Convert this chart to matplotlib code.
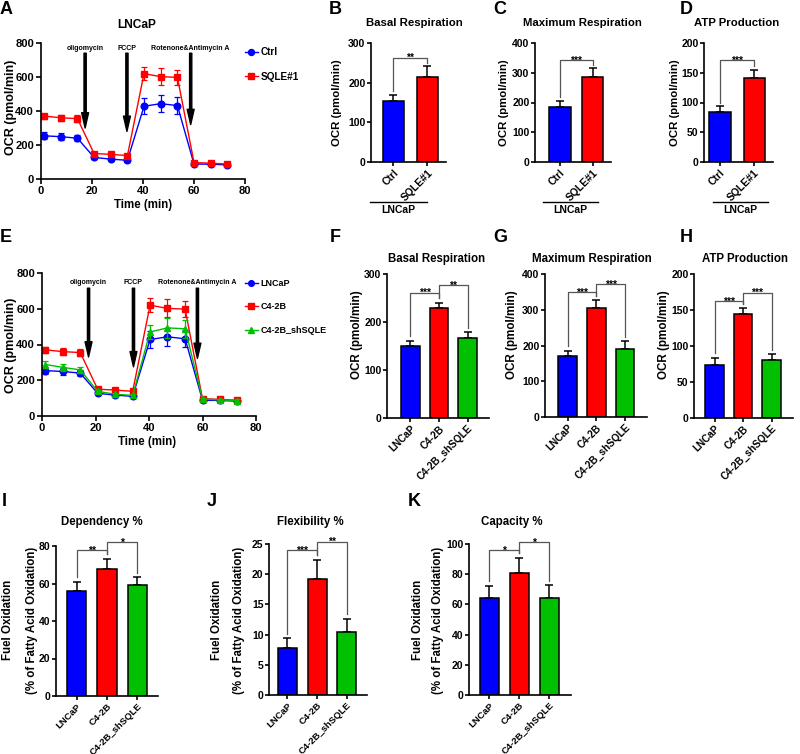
import numpy as np
import matplotlib.pyplot as plt

plt.rcParams['font.family'] = ['Liberation Sans', 'DejaVu Sans']
plt.rcParams['font.weight'] = 'bold'
plt.rcParams['axes.labelweight'] = 'bold'

# ---- data ----
t = [1.3, 7.8, 14.3, 20.8, 27.3, 33.9, 40.4, 46.9, 53.5, 60.0, 66.5, 73.0]

a_ctrl = [254, 249, 240, 127, 117, 110, 428, 443, 432, 88, 87, 83]
a_ctrl_err = [20, 20, 18, 10, 8, 8, 48, 50, 48, 8, 7, 7]
a_sqle = [370, 360, 355, 150, 145, 138, 620, 602, 598, 97, 93, 88]
a_sqle_err = [15, 18, 22, 10, 9, 9, 38, 50, 45, 8, 7, 7]

e_lncap = [254, 249, 240, 127, 117, 110, 428, 443, 432, 88, 87, 83]
e_lncap_err = [20, 20, 18, 10, 8, 8, 48, 50, 48, 8, 7, 7]
e_c42b = [370, 360, 355, 150, 145, 138, 620, 602, 598, 97, 93, 88]
e_c42b_err = [15, 18, 22, 10, 9, 9, 38, 50, 45, 8, 7, 7]
e_sh = [288, 272, 258, 138, 122, 115, 470, 493, 488, 95, 90, 86]
e_sh_err = [20, 18, 18, 10, 8, 8, 38, 55, 50, 8, 7, 7]

inj_names = ['oligomycin', 'FCCP', 'Rotenone&Antimycin A']
a_inj_t = [17.3, 33.7, 58.7]
a_inj_tip = [300, 280, 320]
e_inj_t = [17.4, 34.2, 58.1]
e_inj_tip = [330, 275, 322]

grp2 = ['Ctrl', 'SQLE#1']
grp3 = ['LNCaP', 'C4-2B', 'C4-2B_shSQLE']

b_vals, b_err = [154, 214], [15, 27]
c_vals, c_err = [185, 287], [20, 28]
d_vals, d_err = [84, 141], [10, 14]
f_vals, f_err = [150, 230, 167], [11, 10, 12]
g_vals, g_err = [171, 306, 189], [15, 20, 23]
h_vals, h_err = [74, 145, 81], [10, 8, 8]
i_vals, i_err = [56, 67.6, 59.4], [5, 5.7, 4]
j_vals, j_err = [7.85, 19.2, 10.4], [1.55, 3.2, 2.2]
k_vals, k_err = [64, 81, 64.5], [8.3, 10, 8.3]

# significance: (left, right, level, label)
b_sig = [(0, 1, 263, '**')]
c_sig = [(0, 1, 342, '***')]
d_sig = [(0, 1, 171, '***')]
f_sig = [(0, 1, 261, '***'), (1, 2, 277, '**')]
g_sig = [(0, 1, 349, '***'), (1, 2, 372, '***')]
h_sig = [(0, 1, 162, '***'), (1, 2, 174, '***')]
i_sig = [(0, 1, 77.8, '**'), (1, 2, 82, '*')]
j_sig = [(0, 1, 24.0, '***'), (1, 2, 25.4, '**')]
k_sig = [(0, 1, 96, '*'), (1, 2, 101.5, '*')]

BLUE, RED, GREEN = '#0000FF', '#FF0000', '#00C000'

W, H = 800, 754
fig = plt.figure(figsize=(8, 7.54), dpi=100)


def box(x0, y0, x1, y1):
    return [x0 / W, 1 - y1 / H, (x1 - x0) / W, (y1 - y0) / H]


def ftext(x, y, s, **kw):
    fig.text(x / W, 1 - y / H, s, **kw)


def style(ax, fs):
    for s in ['top', 'right']:
        ax.spines[s].set_visible(False)
    for s in ['left', 'bottom']:
        ax.spines[s].set_linewidth(1.2)
    ax.tick_params(width=1.2, length=3, pad=1)
    ax.tick_params(axis='y', labelsize=fs)


def trace(ax, series, inj_t, inj_tip, arrow_top, label_y):
    for vals, errs, col, mk, ms, lab in series:
        ax.errorbar(t, vals, yerr=errs, fmt='none', ecolor=col, elinewidth=0.9,
                    capsize=2.5, capthick=0.9)
        ax.plot(t, vals, color=col, marker=mk, ms=ms, lw=1, label=lab)
    for x, tip, name in zip(inj_t, inj_tip, inj_names):
        ax.annotate('', xy=(x, tip), xytext=(x, arrow_top),
                    arrowprops=dict(facecolor='black', edgecolor='black',
                                    width=1.6, headwidth=5, headlength=11))
        ax.text(x, label_y, name, ha='center', va='center', fontsize=5)
    ax.set_xlim(0, 80)
    ax.set_ylim(0, 800)
    ax.set_xticks([0, 20, 40, 60, 80])
    ax.set_yticks([0, 200, 400, 600, 800])
    style(ax, 8)
    ax.tick_params(axis='x', labelsize=8)
    ax.tick_params(length=3.5, pad=1.5)


def bars(ax, labels, vals, errs, colors, ymax, ystep, xlim, bw, sig, xfs):
    x = np.arange(len(vals))
    ax.errorbar(x, vals, yerr=[np.zeros(len(errs)), errs], fmt='none',
                ecolor='black', elinewidth=1.1, capsize=3, capthick=1.1, zorder=1)
    ax.bar(x, vals, width=bw, color=colors, edgecolor='black', lw=1.1, zorder=2)
    ax.set_xlim(*xlim)
    ax.set_ylim(0, ymax)
    ax.set_yticks(np.arange(0, ymax + ystep / 2, ystep))
    ax.set_xticks(x)
    ax.set_xticklabels(labels, rotation=45, ha='right', rotation_mode='anchor',
                       fontsize=xfs)
    style(ax, 7.5)
    gap = 0.03 * ymax
    for l, r, lev, s in sig:
        yl = vals[l] + errs[l] + gap
        yr = vals[r] + errs[r] + gap
        ax.plot([l, l, r, r], [yl, lev, lev, yr], color='#555555', lw=0.9,
                clip_on=False, zorder=3)
        ax.annotate(s, xy=((l + r) / 2, lev), xytext=(0, -2.6),
                    textcoords='offset points', ha='center', va='baseline',
                    fontsize=7.5, annotation_clip=False)


def group_line(ax, x0, x1, name):
    tr = ax.transAxes
    ax.plot([x0, x1], [-0.333, -0.333], color='black', lw=1, transform=tr,
            clip_on=False)
    ax.text((x0 + x1) / 2, -0.36, name, transform=tr, ha='center', va='top',
            fontsize=7.5)


# ---- A ----
axA = fig.add_axes(box(41, 43, 245, 179))
trace(axA, [(a_ctrl, a_ctrl_err, BLUE, 'o', 4.8, 'Ctrl'),
            (a_sqle, a_sqle_err, RED, 's', 4.3, 'SQLE#1')],
      a_inj_t, a_inj_tip, 740, 766)
axA.legend(loc='upper left', bbox_to_anchor=(245 / W, 1 - 47 / H),
           bbox_transform=fig.transFigure, frameon=False, fontsize=7.2,
           handlelength=1.25, handletextpad=0.3, labelspacing=1.45,
           borderaxespad=0, borderpad=0, markerscale=0.9)
ftext(143, 205, 'Time (min)', ha='center', va='center', fontsize=8.3)
ftext(11, 107, 'OCR (pmol/min)', rotation=90, ha='center', va='center', fontsize=9)
ftext(137, 25, 'LNCaP', ha='center', va='center', fontsize=8.6)

# ---- B, C, D ----
two = [BLUE, RED]
axB = fig.add_axes(box(371, 43, 446, 162))
bars(axB, grp2, b_vals, b_err, two, 300, 100, (-0.66, 1.55), 0.62, b_sig, 7.5)
group_line(axB, -0.01, 0.75, 'LNCaP')
axC = fig.add_axes(box(535, 43, 611, 162))
bars(axC, grp2, c_vals, c_err, two, 400, 100, (-0.76, 1.55), 0.64, c_sig, 7.5)
group_line(axC, 0.105, 0.83, 'LNCaP')
axD = fig.add_axes(box(704, 43, 773, 162))
bars(axD, grp2, d_vals, d_err, two, 200, 50, (-0.47, 1.55), 0.62, d_sig, 7.5)
group_line(axD, 0.13, 0.93, 'LNCaP')
for x, ttl in [(414, 'Basal Respiration'), (582, 'Maximum Respiration'),
               (737, 'ATP Production')]:
    ftext(x, 23, ttl, ha='center', va='center', fontsize=8.2)
for x in [337, 504, 675]:
    ftext(x, 103, 'OCR (pmol/min)', rotation=90, ha='center', va='center',
          fontsize=8.2)

# ---- E ----
axE = fig.add_axes(box(42, 273, 256, 416))
trace(axE, [(e_lncap, e_lncap_err, BLUE, 'o', 4.8, 'LNCaP'),
            (e_c42b, e_c42b_err, RED, 's', 4.3, 'C4-2B'),
            (e_sh, e_sh_err, GREEN, '^', 4.3, 'C4-2B_shSQLE')],
      e_inj_t, e_inj_tip, 715, 745)
axE.legend(loc='upper left', bbox_to_anchor=(245 / W, 1 - 279 / H),
           bbox_transform=fig.transFigure, frameon=False, fontsize=6.5,
           handlelength=1.4, handletextpad=0.3, labelspacing=1.6,
           borderaxespad=0, borderpad=0, markerscale=0.85)
ftext(147, 442, 'Time (min)', ha='center', va='center', fontsize=8.3)
ftext(11, 345, 'OCR (pmol/min)', rotation=90, ha='center', va='center', fontsize=9)

# ---- F, G, H ----
three = [BLUE, RED, GREEN]
axF = fig.add_axes(box(387, 274, 489, 418))
bars(axF, grp3, f_vals, f_err, three, 300, 100, (-0.82, 2.75), 0.66, f_sig, 7.2)
axG = fig.add_axes(box(545, 274, 647, 417))
bars(axG, grp3, g_vals, g_err, three, 400, 100, (-0.8, 2.77), 0.66, g_sig, 7.2)
axH = fig.add_axes(box(694, 274, 793, 418))
bars(axH, grp3, h_vals, h_err, three, 200, 50, (-0.72, 2.75), 0.64, h_sig, 7.2)
for x, ttl in [(437, 'Basal Respiration'), (592, 'Maximum Respiration'),
               (745, 'ATP Production')]:
    ftext(x, 259, ttl, ha='center', va='center', fontsize=8.3)
for x in [357, 512, 664]:
    ftext(x, 335, 'OCR (pmol/min)', rotation=90, ha='center', va='center',
          fontsize=8.4)

# ---- I, J, K ----
axI = fig.add_axes(box(56, 546, 158, 696))
bars(axI, grp3, i_vals, i_err, three, 80, 20, (-0.68, 2.68), 0.64, i_sig, 6.8)
axJ = fig.add_axes(box(269, 544, 367, 695))
bars(axJ, grp3, j_vals, j_err, three, 25, 5, (-0.62, 2.68), 0.64, j_sig, 6.8)
axK = fig.add_axes(box(469, 544, 571, 695))
bars(axK, grp3, k_vals, k_err, three, 100, 20, (-0.68, 2.72), 0.64, k_sig, 6.8)
for x, ttl in [(102, 'Dependency %'), (310, 'Flexibility %'), (512, 'Capacity %')]:
    ftext(x, 522, ttl, ha='center', va='center', fontsize=8.3)
for x1, x2 in [(8, 32), (217, 239), (418, 438)]:
    ftext(x1, 620, 'Fuel Oxidation', rotation=90, ha='center', va='center',
          fontsize=8.3)
    ftext(x2, 620, '(% of Fatty Acid Oxidation)', rotation=90, ha='center',
          va='center', fontsize=8.3)

# ---- panel letters ----
for s, x, y in [('A', 6, 9), ('B', 335, 9), ('C', 500, 9), ('D', 686, 9),
                ('E', 6, 238), ('F', 335, 238), ('G', 500, 238), ('H', 686, 238),
                ('I', 4, 502), ('J', 212, 502), ('K', 414, 502)]:
    ftext(x, y, s, ha='center', va='center', fontsize=13)

fig.savefig('out.png', dpi=100)
